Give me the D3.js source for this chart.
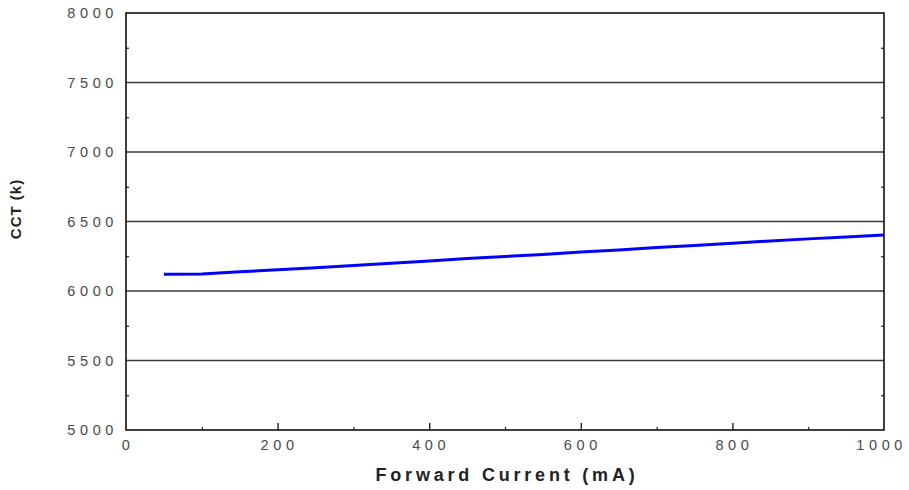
<!DOCTYPE html>
<html>
<head>
<meta charset="utf-8">
<script src="https://cdn.jsdelivr.net/npm/d3@7"></script>
<style>
  html, body { margin: 0; padding: 0; background: #fff; }
  svg { display: block; }
</style>
</head>
<body>
<svg id="chart" width="909" height="490"></svg>
<script>
// Forward current (mA) vs. correlated colour temperature (K)
const currentMA = [50, 100, 150, 200, 250, 300, 350, 400, 450, 500, 550, 600, 650, 700, 750, 800, 850, 900, 950, 1000];
const cctK      = [6120, 6122, 6138, 6153, 6168, 6184, 6200, 6215, 6233, 6248, 6263, 6280, 6295, 6313, 6328, 6344, 6360, 6375, 6388, 6403];
const xTicks = [0, 200, 400, 600, 800, 1000];
const xMinorTicks = [100, 300, 500, 700, 900];
const yTicks = [5000, 5500, 6000, 6500, 7000, 7500, 8000];
const yMinorTicks = [5250, 5750, 6250, 6750, 7250, 7750];
const xTitle = "Forward Current (mA)";
const yTitle = "CCT (k)";

const svg = d3.select("#chart");
const W = 909;
const m = { left: 126, right: 884, top: 13, bottom: 430 };

const x = d3.scaleLinear().domain([0, 1000]).range([m.left, m.right]);
const y = d3.scaleLinear().domain([5000, 8000]).range([m.bottom, m.top]);

const font = "Liberation Sans, Arial, sans-serif";

// horizontal grid at the major y ticks
svg.append("g")
  .selectAll("line")
  .data(yTicks.slice(1, -1))
  .join("line")
  .attr("x1", m.left).attr("x2", m.right)
  .attr("y1", d => y(d)).attr("y2", d => y(d))
  .attr("stroke", "#3a3a3a").attr("stroke-width", 1.6);

// y axis minor ticks, pointing inward on both sides
const yAxis = svg.append("g").attr("transform", `translate(${m.left},0)`)
  .call(d3.axisRight(y).tickValues(yMinorTicks).tickSize(3).tickFormat(""));
yAxis.select(".domain").remove();
yAxis.selectAll("line").attr("stroke", "#222").attr("stroke-width", 1.2);

const yRight = svg.append("g").attr("transform", `translate(${m.right},0)`)
  .call(d3.axisLeft(y).tickValues(yMinorTicks).tickSize(3).tickFormat(""));
yRight.select(".domain").remove();
yRight.selectAll("line").attr("stroke", "#222").attr("stroke-width", 1.2);

// x axis ticks, pointing up into the plot
const xMajor = svg.append("g").attr("transform", `translate(0,${m.bottom})`)
  .call(d3.axisTop(x).tickValues(xTicks.slice(1, -1)).tickSize(7).tickFormat(""));
xMajor.select(".domain").remove();
xMajor.selectAll("line").attr("stroke", "#222").attr("stroke-width", 1.4);

const xMinor = svg.append("g").attr("transform", `translate(0,${m.bottom})`)
  .call(d3.axisTop(x).tickValues(xMinorTicks).tickSize(3).tickFormat(""));
xMinor.select(".domain").remove();
xMinor.selectAll("line").attr("stroke", "#222").attr("stroke-width", 1.2);

// frame
svg.append("rect")
  .attr("x", m.left).attr("y", m.top)
  .attr("width", m.right - m.left).attr("height", m.bottom - m.top)
  .attr("fill", "none").attr("stroke", "#111").attr("stroke-width", 1.6);

// tick labels
svg.append("g")
  .selectAll("text")
  .data(yTicks)
  .join("text")
  .attr("x", 118)
  .attr("y", d => y(d) + 5)
  .attr("text-anchor", "end")
  .attr("font-family", font)
  .attr("font-size", 14.5)
  .attr("letter-spacing", 4.6)
  .attr("fill", "#4a4a4a")
  .text(d => d);

const xLabels = svg.append("g")
  .selectAll("text")
  .data(xTicks)
  .join("text")
  .attr("x", d => x(d) + 2)
  .attr("y", m.bottom + 20)
  .attr("text-anchor", "middle")
  .attr("font-family", font)
  .attr("font-size", 14.5)
  .attr("letter-spacing", 4.6)
  .attr("fill", "#4a4a4a")
  .text(d => d);

// keep the last label inside the canvas
xLabels.each(function() {
  const b = this.getBBox();
  if (b.x + b.width > W - 2) {
    d3.select(this).attr("x", +d3.select(this).attr("x") - (b.x + b.width - (W - 2)));
  }
});

// axis titles
svg.append("text")
  .attr("x", 507).attr("y", 481)
  .attr("text-anchor", "middle")
  .attr("font-family", font)
  .attr("font-weight", "bold")
  .attr("font-size", 18)
  .attr("letter-spacing", 3.8)
  .attr("fill", "#222")
  .text(xTitle);

svg.append("text")
  .attr("transform", "translate(21,209) rotate(-90)")
  .attr("text-anchor", "middle")
  .attr("font-family", font)
  .attr("font-weight", "bold")
  .attr("font-size", 15)
  .attr("letter-spacing", 1)
  .attr("fill", "#222")
  .text(yTitle);

// data line
const line = d3.line()
  .x((d, i) => x(currentMA[i]))
  .y(d => y(d));

svg.append("path")
  .datum(cctK)
  .attr("d", line)
  .attr("fill", "none")
  .attr("stroke", "#0000ff")
  .attr("stroke-width", 3);
</script>
</body>
</html>
